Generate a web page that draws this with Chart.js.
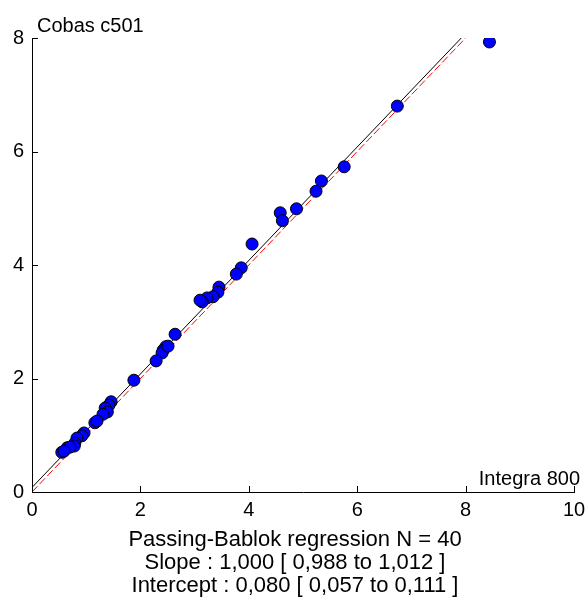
<!DOCTYPE html>
<html>
<head>
<meta charset="utf-8">
<script src="https://cdn.jsdelivr.net/npm/chart.js@4"></script>
<style>
  html, body { margin: 0; padding: 0; background: #fff; }
  #wrap { width: 585px; height: 601px; }
</style>
</head>
<body>
<div id="wrap"><canvas id="pbchart" width="585" height="601"></canvas></div>
<script>
// Start Data
const integra = [8.44, 6.74, 5.76, 5.34, 5.24, 4.88, 4.58, 4.62, 4.06, 3.86,
                 3.77, 3.45, 3.43, 3.34, 3.23, 3.14, 2.64, 2.47, 2.42, 2.40,
                 2.29, 1.88, 1.46, 1.42, 1.35, 1.39, 1.31, 1.16, 1.20, 0.96,
                 0.92, 0.83, 0.79, 0.78, 0.65, 0.70, 0.55, 0.59, 3.10, 2.51];
const cobas   = [7.93, 6.80, 5.73, 5.48, 5.30, 4.99, 4.92, 4.78, 4.37, 3.95,
                 3.84, 3.61, 3.52, 3.44, 3.42, 3.35, 2.78, 2.56, 2.50, 2.45,
                 2.31, 1.97, 1.59, 1.53, 1.48, 1.41, 1.37, 1.22, 1.25, 1.04,
                 0.99, 0.95, 0.86, 0.81, 0.78, 0.79, 0.70, 0.72, 3.38, 2.57];
const slope = 1.000;
const intercept = 0.080;
const lineRange = [0, 8];
const xTicks = [0, 2, 4, 6, 8, 10];
const yTicks = [0, 2, 4, 6, 8];
const statLines = [
  'Passing-Bablok regression N = 40',
  'Slope : 1,000 [ 0,988 to 1,012 ]',
  'Intercept : 0,080 [ 0,057 to 0,111 ]'
];
// End Data

const font = 'Liberation Sans, Arial, sans-serif';
const points = integra.map((x, i) => ({x: x, y: cobas[i]}));
const fitLine = lineRange.map(x => ({x: x, y: intercept + slope * x}));
const idLine = lineRange.map(x => ({x: x, y: x}));

// draw inward ticks + the free texts
const extras = {
  id: 'extras',
  afterDraw(chart) {
    const ctx = chart.ctx;
    const xs = chart.scales.x, ys = chart.scales.y;
    const a = chart.chartArea;
    ctx.save();
    ctx.strokeStyle = '#000';
    ctx.lineWidth = 1;
    ctx.beginPath();
    xTicks.forEach(v => {
      const px = Math.round(xs.getPixelForValue(v)) + 0.5;
      ctx.moveTo(px, a.bottom);
      ctx.lineTo(px, a.bottom - 6);
    });
    yTicks.forEach(v => {
      const py = Math.round(ys.getPixelForValue(v)) + 0.5;
      ctx.moveTo(a.left, py);
      ctx.lineTo(a.left + 6, py);
    });
    ctx.stroke();

    ctx.fillStyle = '#000';
    ctx.font = '20px ' + font;
    ctx.textBaseline = 'alphabetic';
    ctx.textAlign = 'left';
    ctx.fillText('Cobas c501', 37, 32);
    ctx.textAlign = 'right';
    ctx.fillText('Integra 800', 580, 485);

    ctx.font = '22px ' + font;
    ctx.textAlign = 'center';
    statLines.forEach((s, i) => {
      ctx.fillText(s, 295, 546 + i * 23);
    });
    ctx.restore();
  }
};

new Chart(document.getElementById('pbchart'), {
  type: 'scatter',
  data: {
    datasets: [
      {
        data: points,
        backgroundColor: '#0000ff',
        borderColor: '#000',
        borderWidth: 1,
        pointRadius: 6,
        pointHoverRadius: 6
      },
      {
        type: 'line',
        data: fitLine,
        borderColor: '#000',
        borderWidth: 1,
        pointRadius: 0,
        fill: false
      },
      {
        type: 'line',
        data: idLine,
        borderColor: '#ff0000',
        borderWidth: 1,
        borderDash: [8, 3],
        pointRadius: 0,
        fill: false
      }
    ]
  },
  options: {
    responsive: false,
    animation: false,
    events: [],
    layout: { padding: { top: 38, right: 11, left: 0, bottom: 0 } },
    plugins: { legend: { display: false }, tooltip: { enabled: false } },
    scales: {
      x: {
        type: 'linear',
        min: 0, max: 10,
        afterFit(scale) { scale.height = 109; scale.paddingLeft = 0; scale.paddingRight = 0; },
        afterBuildTicks(scale) { scale.ticks = xTicks.map(v => ({value: v})); },
        grid: { display: true, drawOnChartArea: false, drawTicks: false },
        border: { display: true, color: '#000', width: 1 },
        ticks: { color: '#000', font: { family: font, size: 20 }, padding: 6, maxRotation: 0 }
      },
      y: {
        type: 'linear',
        min: 0, max: 8,
        afterFit(scale) { scale.width = 32; scale.paddingTop = 0; scale.paddingBottom = 0; },
        afterBuildTicks(scale) { scale.ticks = yTicks.map(v => ({value: v})); },
        grid: { display: true, drawOnChartArea: false, drawTicks: false },
        border: { display: true, color: '#000', width: 1 },
        ticks: { color: '#000', font: { family: font, size: 20 }, padding: 8 }
      }
    }
  },
  plugins: [extras]
});
</script>
</body>
</html>
